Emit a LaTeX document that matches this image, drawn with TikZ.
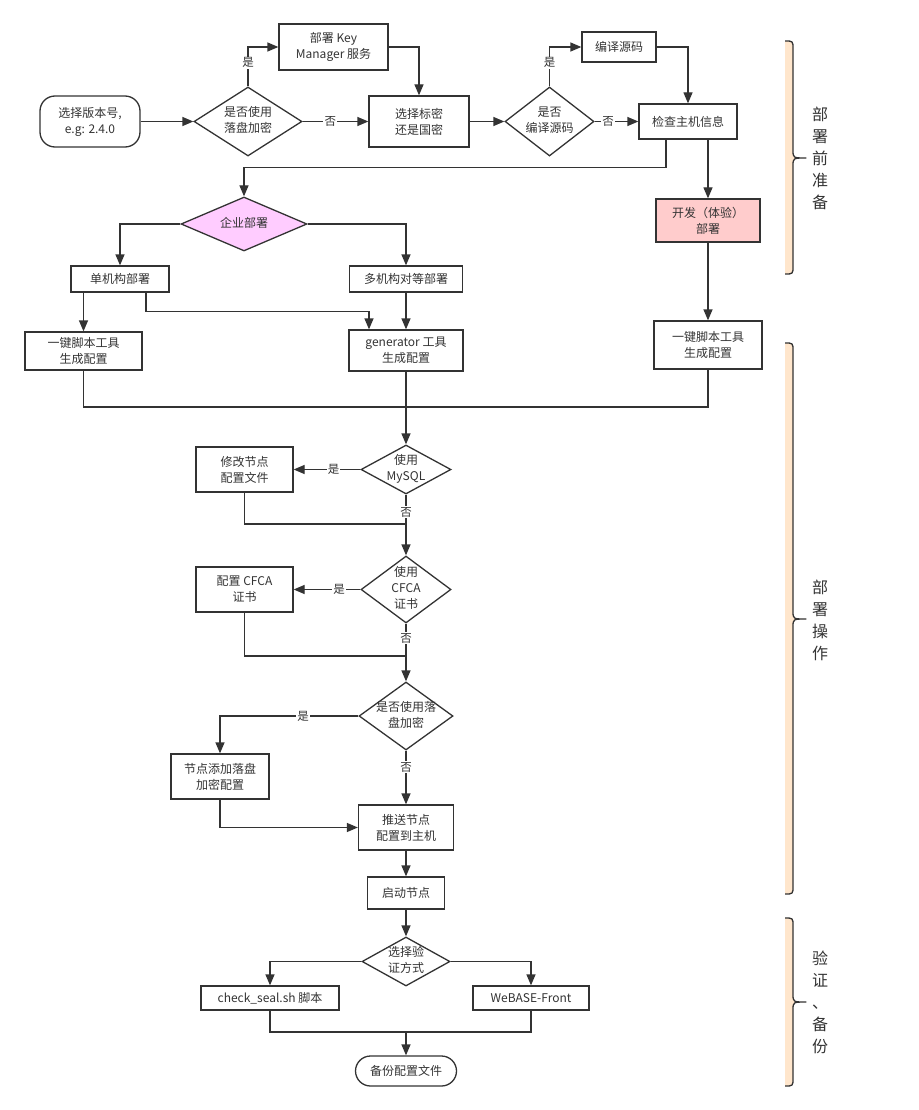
\documentclass[tikz,border=0pt]{standalone}
\usepackage{fontspec}
\setmainfont{Noto Sans CJK SC}
\usepackage{tikz}
\usetikzlibrary{shapes.geometric,arrows.meta}
\definecolor{ink}{HTML}{333333}
\definecolor{peach}{HTML}{FFE6CC}
\definecolor{entpink}{HTML}{FFCCFF}
\definecolor{devpink}{HTML}{FFCCCC}
\newcommand{\dtxt}[1]{\makebox[0pt]{\raisebox{-0.25em}[0pt][0pt]{\begin{tabular}{@{}c@{}}#1\end{tabular}}}}
\tikzset{
        box/.style={draw, rectangle, align=center, inner sep=2pt, font=\fontsize{12pt}{16pt}\selectfont},
        term/.style={box, rounded corners=15pt},
        dec/.style={draw, diamond, inner sep=0pt, font=\fontsize{12pt}{16pt}\selectfont},
        lbl/.style={fill=white, inner sep=1pt, font=\fontsize{11.5pt}{13pt}\selectfont},
        side/.style={align=center, font=\fontsize{16pt}{22pt}\selectfont},
        brace/.style={line width=1.3pt, line join=round}
}
\begin{document}
\begin{tikzpicture}[x=1pt, y=-1pt, color=ink, line width=1.3pt, >={Triangle[length=11pt, width=9pt]}]
        \useasboundingbox (0,0) rectangle (918,1110);
        \fill[peach] (785,41) .. controls (793,41) .. (793,49) -- (793,150) .. controls (793,158) .. (806,158) .. controls (793,158) .. (793,166) -- (793,266) .. controls (793,274) .. (785,274) -- cycle;
        \draw[brace] (785,41) .. controls (793,41) .. (793,49) -- (793,150) .. controls (793,158) .. (806,158) .. controls (793,158) .. (793,166) -- (793,266) .. controls (793,274) .. (785,274);
        \fill[peach] (785,343) .. controls (793,343) .. (793,351) -- (793,611) .. controls (793,619) .. (806,619) .. controls (793,619) .. (793,627) -- (793,886) .. controls (793,894) .. (785,894) -- cycle;
        \draw[brace] (785,343) .. controls (793,343) .. (793,351) -- (793,611) .. controls (793,619) .. (806,619) .. controls (793,619) .. (793,627) -- (793,886) .. controls (793,894) .. (785,894);
        \fill[peach] (785,918) .. controls (793,918) .. (793,926) -- (793,994) .. controls (793,1002) .. (806,1002) .. controls (793,1002) .. (793,1010) -- (793,1078) .. controls (793,1086) .. (785,1086) -- cycle;
        \draw[brace] (785,918) .. controls (793,918) .. (793,926) -- (793,994) .. controls (793,1002) .. (806,1002) .. controls (793,1002) .. (793,1010) -- (793,1078) .. controls (793,1086) .. (785,1086);
        \node[side] (prep) at (820,158) {部\\署\\前\\准\\备};
        \node[side] (oper) at (820,620) {部\\署\\操\\作};
        \node[side] (check) at (820,1002) {验\\证\\、\\备\\份};

        \node[term, minimum width=100pt, minimum height=51pt] (start) at (90,121.5) {选择版本号,\\e.g: 2.4.0};
        \node[dec, minimum width=108pt, minimum height=69pt] (dk) at (248,121.5) {\dtxt{是否使用\\落盘加密}};
        \node[box, minimum width=109pt, minimum height=46pt] (km) at (333.5,47) {部署 Key\\Manager 服务};
        \node[box, minimum width=100pt, minimum height=51pt] (sm) at (419,121.5) {选择标密\\还是国密};
        \node[dec, minimum width=89pt, minimum height=69pt] (dc) at (549.5,121.5) {\dtxt{是否\\编译源码}};
        \node[box, minimum width=74pt, minimum height=30pt] (bm) at (619,47) {编译源码};
        \node[box, minimum width=98pt, minimum height=35pt] (ck) at (688,121.5) {检查主机信息};
        \node[dec, fill=entpink, minimum width=126pt, minimum height=54pt] (ent) at (244,224) {\dtxt{企业部署}};
        \node[box, fill=devpink, minimum width=104pt, minimum height=43pt] (dev) at (708,220.5) {开发（体验）\\部署};
        \node[box, minimum width=98pt, minimum height=26pt] (one) at (120,279) {单机构部署};
        \node[box, minimum width=113pt, minimum height=26pt] (multi) at (406,279) {多机构对等部署};
        \node[box, minimum width=117pt, minimum height=38pt] (ls) at (83.5,351) {一键脚本工具\\生成配置};
        \node[box, minimum width=114pt, minimum height=41pt] (gen) at (406,350.5) {generator 工具\\生成配置};
        \node[box, minimum width=108pt, minimum height=48pt] (rs) at (708,345) {一键脚本工具\\生成配置};
        \node[dec, minimum width=90pt, minimum height=49pt] (my) at (406,469.5) {\dtxt{使用\\MySQL}};
        \node[box, minimum width=97pt, minimum height=45pt] (mod) at (244.5,469.5) {修改节点\\配置文件};
        \node[dec, minimum width=90pt, minimum height=67pt] (cf) at (406,589.5) {\dtxt{使用\\CFCA\\证书}};
        \node[box, minimum width=97pt, minimum height=45pt] (cfb) at (244.5,589.5) {配置 CFCA\\证书};
        \node[dec, minimum width=94pt, minimum height=68pt] (dd) at (406,716) {\dtxt{是否使用落\\盘加密}};
        \node[box, minimum width=98pt, minimum height=45pt] (addc) at (220,776.5) {节点添加落盘\\加密配置};
        \node[box, minimum width=95pt, minimum height=45pt] (push) at (406,827.5) {推送节点\\配置到主机};
        \node[box, minimum width=77pt, minimum height=32pt] (run) at (406,893) {启动节点};
        \node[dec, minimum width=88pt, minimum height=49pt] (ver) at (406,961.5) {\dtxt{选择验\\证方式}};
        \node[box, minimum width=138pt, minimum height=24pt] (cs) at (270,998) {check\_seal.sh 脚本};
        \node[box, minimum width=116pt, minimum height=24pt] (wf) at (531,998) {WeBASE-Front};
        \node[term, rounded corners=15pt, minimum width=101pt, minimum height=30pt] (bak) at (406,1071) {备份配置文件};
        \coordinate (j1) at (406,407);
        \coordinate (j2) at (406,524);
        \coordinate (j3) at (406,656);
        \coordinate (j4) at (406,1032);

        \draw[->] (start) -- (dk);
        \draw[->] (dk.north) |- node[lbl, pos=0.3] {是} (km.west);
        \draw[->] (dk) -- node[lbl, pos=0.42] {否} (sm);
        \draw[->] (km.east) -| (sm.north);
        \draw[->] (sm) -- (dc);
        \draw[->] (dc.north) |- node[lbl, pos=0.3] {是} (bm.west);
        \draw[->] (dc) -- node[lbl, pos=0.31] {否} (ck);
        \draw[->] (bm.east) -| (ck.north);
        \draw[->] (ck.south -| dev.north) -- (dev.north);
        \draw[->] ([xshift=-22pt]ck.south) -- ++(0,28) -| (ent.north);
        \draw[->] (ent.west) -| (one.north);
        \draw[->] (ent.east) -| (multi.north);
        \draw[->] (one.south -| ls.north) -- (ls.north);
        \draw[->] ([xshift=26pt]one.south) -- ++(0,19) -| ([xshift=-37pt]gen.north);
        \draw[->] (multi) -- (gen);
        \draw[->] (dev) -- (rs);
        \draw (ls.south) |- (j1);
        \draw (rs.south) |- (j1);
        \draw[->] (gen) -- (my);
        \draw[->] (my) -- node[lbl, pos=0.4] {是} (mod);
        \draw[->] (my) -- node[lbl, pos=0.29] {否} (cf);
        \draw (mod.south) |- (j2);
        \draw[->] (cf) -- node[lbl, pos=0.32] {是} (cfb);
        \draw (cfb.south) |- (j3);
        \draw[->] (cf) -- node[lbl, pos=0.25] {否} (dd);
        \draw[->] (dd.west) -| node[lbl, pos=0.2] {是} (addc.north);
        \draw[->] (dd) -- node[lbl, pos=0.31] {否} (push);
        \draw[->] (addc.south) |- (push.west);
        \draw[->] (push) -- (run);
        \draw[->] (run) -- (ver);
        \draw[->] (ver.west) -| (cs.north);
        \draw[->] (ver.east) -| (wf.north);
        \draw (cs.south) |- (j4) -| (wf.south);
        \draw[->] (j4) -- (bak);
\end{tikzpicture}
\end{document}
